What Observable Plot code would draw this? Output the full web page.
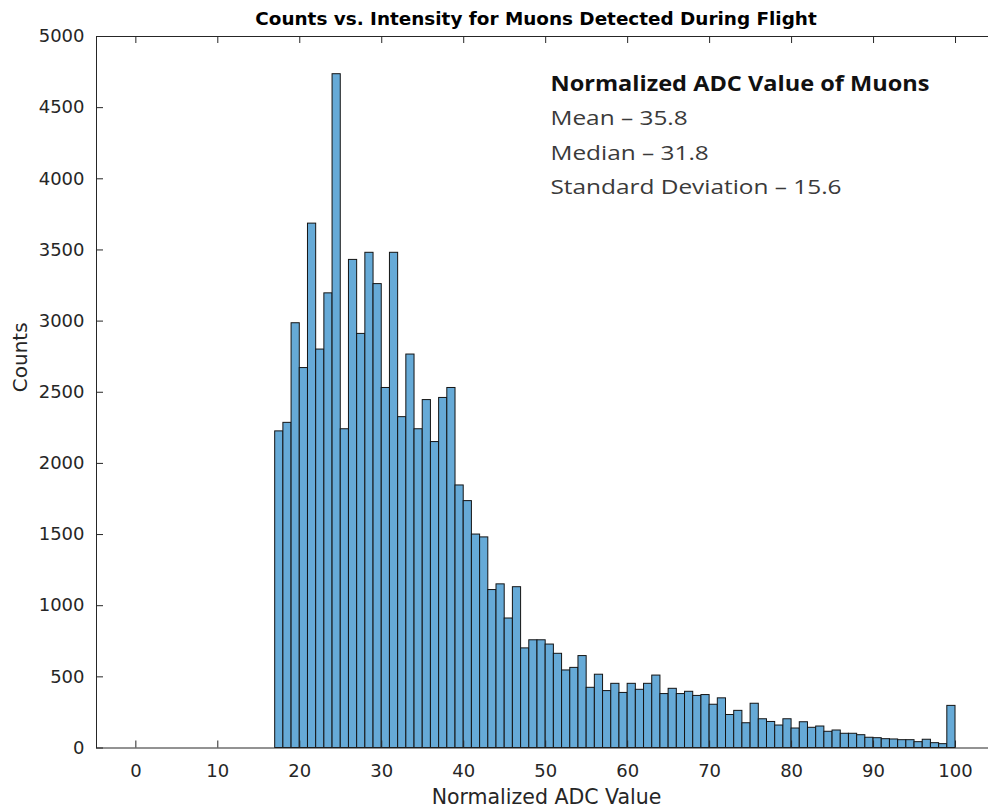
<!DOCTYPE html>
<html>
<head>
<meta charset="utf-8">
<script src="https://cdn.jsdelivr.net/npm/d3@7"></script>
<script src="https://cdn.jsdelivr.net/npm/@observablehq/plot@0.6"></script>
<style>
  html, body { margin: 0; padding: 0; background: #fff; overflow: hidden; width: 988px; height: 809px; }
  #title {
    box-sizing: border-box; height: 30px; width: 1072px; padding-top: 8px;
    text-align: center; line-height: 30px;
    font: bold 18.4px "DejaVu Sans", Verdana, sans-serif; color: #000;
  }
  #chart svg { display: block; overflow: visible; max-width: none !important; }
</style>
</head>
<body>
<div id="title">Counts vs. Intensity for Muons Detected During Flight</div>
<div id="chart"></div>
<script>
// Histogram of normalized ADC values, one-unit bins starting at 17
const binStart = 17;
const binWidth = 1;
const counts = [
  2225, 2285, 2985, 2670, 3685, 2800, 3195, 4735, 2240, 3430,   // 17–26
  2910, 3480, 3260, 2530, 3480, 2325, 2765, 2240, 2445, 2150,   // 27–36
  2460, 2530, 1845, 1735, 1500, 1480, 1110, 1150, 910, 1130,    // 37–46
  700, 757, 757, 727, 662, 545, 563, 646, 423, 515,             // 47–56
  400, 451, 387, 451, 409, 451, 509, 379, 416, 379,             // 57–66
  395, 366, 372, 304, 349, 232, 261, 174, 311, 202,             // 67–76
  183, 158, 202, 137, 181, 142, 151, 114, 123, 100,             // 77–86
  100, 90, 72, 69, 62, 60, 55, 55, 41, 58,                      // 87–96
  34, 27, 296                                                   // 97–99
];

const xTicks = [0, 10, 20, 30, 40, 50, 60, 70, 80, 90, 100];
const yTicks = [0, 500, 1000, 1500, 2000, 2500, 3000, 3500, 4000, 4500, 5000];

const statsTitle = "Normalized ADC Value of Muons";
const statsLines = ["Mean – 35.8", "Median – 31.8", "Standard Deviation – 15.6"];

const bins = counts.map((count, i) => ({
  x1: binStart + i * binWidth,
  x2: binStart + (i + 1) * binWidth,
  count
}));

const W = 1000, H = 779;
const mt = 6, mb = 61.5, ml = 96, mr = 4;
const innerW = W - ml - mr, innerH = H - mt - mb;
const tickLen = 7;
const axisColor = "#262626";
const sans = '"DejaVu Sans", Verdana, sans-serif';
const noteFont = '"Open Sans", "Noto Sans", sans-serif';

const noteMarks = [statsTitle, ...statsLines].map((t, i) =>
  Plot.text([t], {
    frameAnchor: "top-left",
    textAnchor: "start",
    lineAnchor: "middle",
    dx: 454,
    dy: 48 + i * 34.3,
    fontFamily: noteFont,
    fontSize: 20.5,
    fontWeight: i === 0 ? "bold" : "normal",
    fill: i === 0 ? "#111" : "#3a3a3a",
    ariaDescription: i === 0 ? "stats-head" : "stats"
  })
);

const chart = Plot.plot({
  width: W,
  height: H,
  marginTop: mt,
  marginBottom: mb,
  marginLeft: ml,
  marginRight: mr,
  x: { domain: [-4.8, 105], label: null },
  y: { domain: [0, 5000], label: null },
  style: { fontFamily: sans, fontSize: "18px", color: axisColor, background: "#fff" },
  marks: [
    Plot.rectY(bins, {
      x1: "x1", x2: "x2", y: "count",
      fill: "#66aad7", stroke: "#141414", strokeWidth: 1, inset: 0
    }),
    Plot.frame({ stroke: axisColor, strokeWidth: 1 }),
    // inward ticks along bottom, top and left edges
    Plot.tickX(xTicks, { x: d => d, insetTop: innerH - tickLen, stroke: axisColor }),
    Plot.tickX(xTicks, { x: d => d, insetBottom: innerH - tickLen, stroke: axisColor }),
    Plot.tickY(yTicks, { y: d => d, insetRight: innerW - tickLen, stroke: axisColor }),
    Plot.axisX(xTicks, { tickSize: 0, tickPadding: 16.5, fontSize: 18, label: null }),
    Plot.axisY(yTicks, { tickSize: 0, tickPadding: 12, fontSize: 18, tickFormat: "d", label: null }),
    Plot.text(["Counts"], {
      frameAnchor: "left", dx: -76, rotate: -90, fontSize: 20, lineAnchor: "middle", fill: axisColor
    }),
    Plot.text(["Normalized ADC Value"], {
      frameAnchor: "bottom", dy: 49.5, fontSize: 20.5, lineAnchor: "middle", fill: axisColor
    }),
    ...noteMarks
  ]
});

// the stats block is set in a wide face: stretch each line horizontally from its anchor point
function stretch(selector, k) {
  d3.select(chart).selectAll(selector).each(function () {
    const t = this.getAttribute("transform") || "";
    this.setAttribute("transform", `${t} scale(${k},1)`);
  });
}
stretch('g[aria-description="stats-head"] text', 1.15);
stretch('g[aria-description="stats"] text', 1.19);

document.getElementById("chart").appendChild(chart);
</script>
</body>
</html>
